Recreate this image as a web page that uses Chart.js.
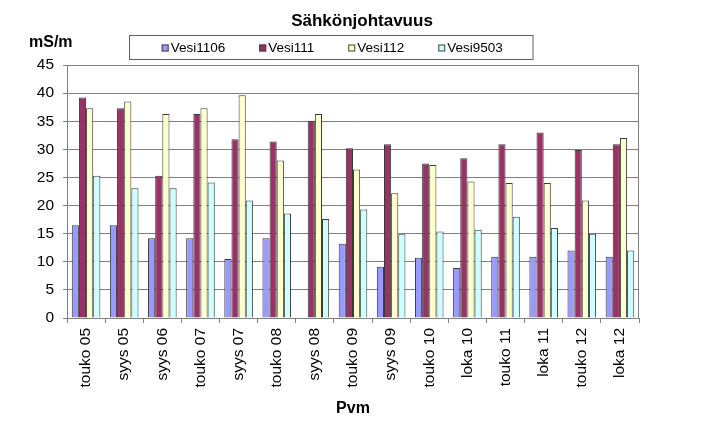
<!DOCTYPE html>
<html>
<head>
<meta charset="utf-8">
<script src="https://cdn.jsdelivr.net/npm/chart.js@4/dist/chart.umd.min.js"></script>
<style>
html,body{margin:0;padding:0;background:#fff;}
canvas{display:block;}
</style>
</head>
<body>
<canvas id="c" width="709" height="432"></canvas>
<script>
const categories = ["touko 05","syys 05","syys 06","touko 07","syys 07","touko 08","syys 08","touko 09","syys 09","touko 10","loka 10","touko 11","loka 11","touko 12","loka 12"];
const vesi1106 = [16.5,16.5,14.2,14.2,10.5,14.2,null,13.2,9.1,10.7,8.9,10.9,10.9,12,10.9];
const vesi111  = [39.2,37.3,25.3,36.3,31.8,31.4,35.1,30.2,30.9,27.5,28.4,30.9,33,29.9,30.9];
const vesi112  = [37.3,38.5,36.3,37.3,39.6,28,36.3,26.4,22.2,27.2,24.3,24,24,20.9,32];
const vesi9503 = [25.3,23.1,23.1,24.1,20.9,18.6,17.6,19.3,14.9,15.4,15.7,18,16,15,12];
const seriesNames = ["Vesi1106","Vesi111","Vesi112","Vesi9503"];
const seriesColors = ["#9999FF","#993366","#FFFFCC","#CCFFFF"];
const yTicksMax = 45, yStep = 5;
const titleText = "Sähkönjohtavuus";
const yUnit = "mS/m";
const xTitle = "Pvm";

const FONT = "'Liberation Sans', Arial, sans-serif";
const seriesData = [vesi1106, vesi111, vesi112, vesi9503];

const decor = {
  id: 'decor',
  afterDraw(chart) {
    const ctx = chart.ctx;
    const a = chart.chartArea;
    ctx.save();
    // plot border
    ctx.strokeStyle = '#808080';
    ctx.lineWidth = 1;
    ctx.strokeRect(a.left + 0.5, a.top + 0.5, a.right - a.left - 1, a.bottom - a.top);
    // title
    ctx.fillStyle = '#000';
    ctx.textAlign = 'center';
    ctx.textBaseline = 'alphabetic';
    ctx.font = "bold 17px " + FONT;
    ctx.fillText(titleText, 362, 26);
    // unit
    ctx.textAlign = 'left';
    ctx.font = "bold 16px " + FONT;
    ctx.fillText(yUnit, 29, 47);
    // x title
    ctx.textAlign = 'center';
    ctx.fillText(xTitle, (a.left + a.right) / 2, 413);
    // legend box
    const bx = 129.5, by = 35.5, bw = 403.5, bh = 24;
    ctx.strokeStyle = '#606060';
    ctx.strokeRect(bx, by, bw, bh);
    ctx.font = "13.5px " + FONT;
    const sq = 7, gap = 2, spacing = 34;
    const widths = seriesNames.map(n => sq + gap + ctx.measureText(n).width);
    const total = widths.reduce((s, w) => s + w, 0) + spacing * (widths.length - 1);
    let x = bx + (bw - total) / 2 + 1;
    const cy = by + bh / 2;
    ctx.textAlign = 'left';
    ctx.textBaseline = 'middle';
    seriesNames.forEach((n, i) => {
      ctx.fillStyle = seriesColors[i];
      ctx.fillRect(x, cy - 3, sq, sq);
      ctx.strokeStyle = '#404040';
      ctx.strokeRect(x + 0.5, cy - 2.5, sq - 1, sq - 1);
      ctx.fillStyle = '#000';
      ctx.fillText(n, x + sq + gap, cy + 1);
      x += widths[i] + spacing;
    });
    ctx.restore();
  }
};

new Chart(document.getElementById('c'), {
  type: 'bar',
  data: {
    labels: categories,
    datasets: seriesNames.map((n, i) => ({
      label: n,
      data: seriesData[i],
      backgroundColor: seriesColors[i],
      borderColor: '#3a3a3a',
      borderWidth: 1,
      barPercentage: 1.0,
      categoryPercentage: 0.75
    }))
  },
  options: {
    responsive: false,
    devicePixelRatio: 1,
    animation: false,
    layout: { padding: { left: 0, right: 70, top: 65, bottom: 0 } },
    plugins: { legend: { display: false }, title: { display: false }, tooltip: { enabled: false } },
    scales: {
      x: {
        grid: { offset: true, drawOnChartArea: false, drawTicks: true, tickLength: 5, color: '#808080' },
        border: { color: '#808080' },
        ticks: { minRotation: 90, maxRotation: 90, color: '#000', padding: 5, font: { family: FONT, size: 15.5 } },
        afterFit(s) { s.height = 114; }
      },
      y: {
        min: 0, max: yTicksMax,
        ticks: { stepSize: yStep, color: '#000', padding: 9, font: { family: FONT, size: 15.5 } },
        grid: { color: '#808080', tickLength: 4 },
        border: { color: '#808080' },
        afterFit(s) { s.width = 67; }
      }
    }
  },
  plugins: [decor]
});
</script>
</body>
</html>
